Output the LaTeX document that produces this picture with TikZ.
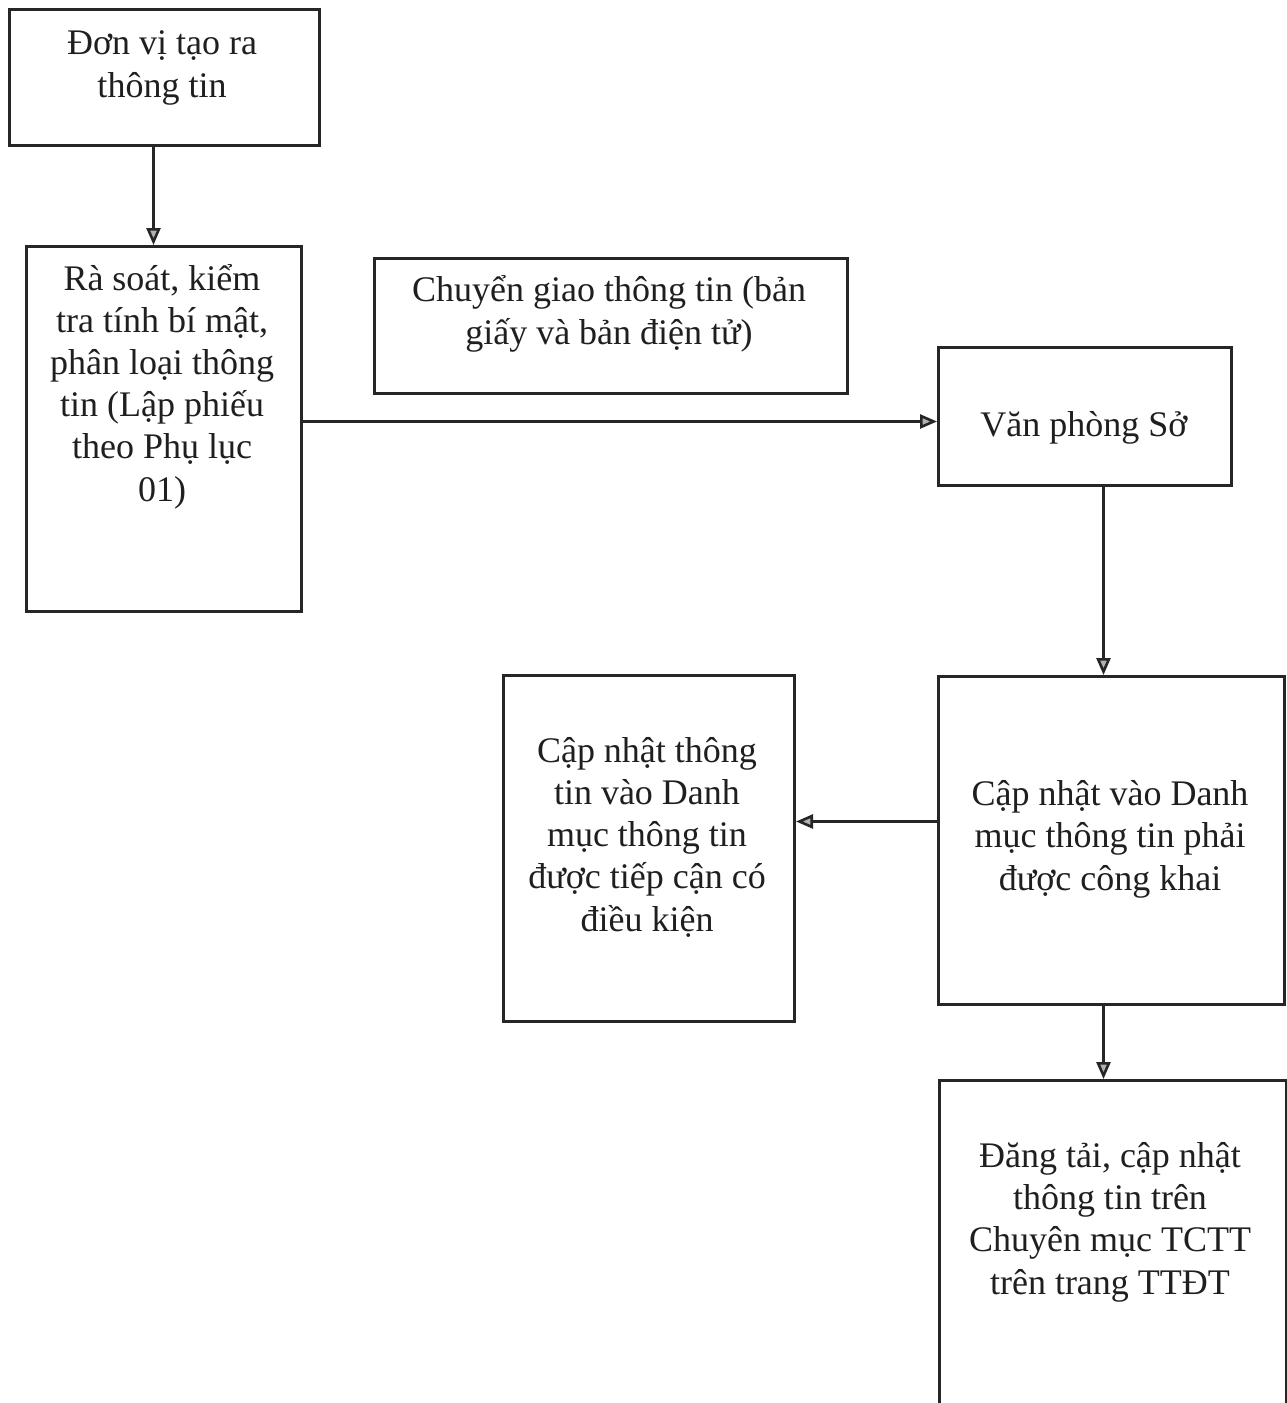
\documentclass[tikz,border=0pt]{standalone}
\usepackage{fontspec}
\setmainfont{Liberation Serif}
\usetikzlibrary{arrows.meta}
\begin{document}
\begin{tikzpicture}[x=1pt,y=-1pt,
  box/.style={draw=black!85, line width=3pt, inner sep=0pt, anchor=north west},
  txt/.style={anchor=base, align=center, inner sep=0pt, font=\fontsize{36}{42.2}\selectfont, text=black!88},
  arr/.style={draw=black!85, line width=2.6pt, -{Triangle[length=17pt,width=14pt,fill=gray!60]}}]
\useasboundingbox (0,0) rectangle (1287,1403);
\clip (0,0) rectangle (1287,1403);
\fill[white] (0,0) rectangle (1287,1403);

% boxes
\node[box, minimum width=310pt, minimum height=136pt] (b1) at (8,8) {};
\node[box, minimum width=275pt, minimum height=365pt] (b2) at (25,245) {};
\node[box, minimum width=473pt, minimum height=135pt] (b3) at (373,257) {};
\node[box, minimum width=293pt, minimum height=138pt] (b4) at (937,346) {};
\node[box, minimum width=346pt, minimum height=328pt] (b5) at (937,675) {};
\node[box, minimum width=291pt, minimum height=346pt] (b6) at (502,674) {};
\node[box, minimum width=347pt, minimum height=420pt] (b7) at (938,1079) {};

% texts (anchor = baseline of last line)
\node[txt] (t1) at (162,97) {Đơn vị tạo ra\\thông tin};
\node[txt] (t2) at (162,501) {Rà soát, kiểm\\tra tính bí mật,\\phân loại thông\\tin (Lập phiếu\\theo Phụ lục\\01)};
\node[txt] (t3) at (609,344) {Chuyển giao thông tin (bản\\giấy và bản điện tử)};
\node[txt] (t4) at (1084,436) {Văn phòng Sở};
\node[txt] (t5) at (1110,890) {Cập nhật vào Danh\\mục thông tin phải\\được công khai};
\node[txt] (t6) at (647,931) {Cập nhật thông\\tin vào Danh\\mục thông tin\\được tiếp cận có\\điều kiện};
\node[txt] (t7) at (1110,1294) {Đăng tải, cập nhật\\thông tin trên\\Chuyên mục TCTT\\trên trang TTĐT};

% connectors
\draw[arr] ([xshift=-11pt]b1.south) -- ([xshift=-11pt]b1.south |- b2.north);
\draw[arr] ([yshift=7.5pt]b2.east) -- ([yshift=7.5pt]b2.east -| b4.west);
\draw[arr] ([xshift=-8pt]b5.north |- b4.south) -- ([xshift=-8pt]b5.north);
\draw[arr] ([yshift=19pt]b5.west) -- ([yshift=19pt]b5.west -| b6.east);
\draw[arr] ([xshift=-8pt]b5.south) -- ([xshift=-8pt]b5.south |- b7.north);
\end{tikzpicture}
\end{document}
